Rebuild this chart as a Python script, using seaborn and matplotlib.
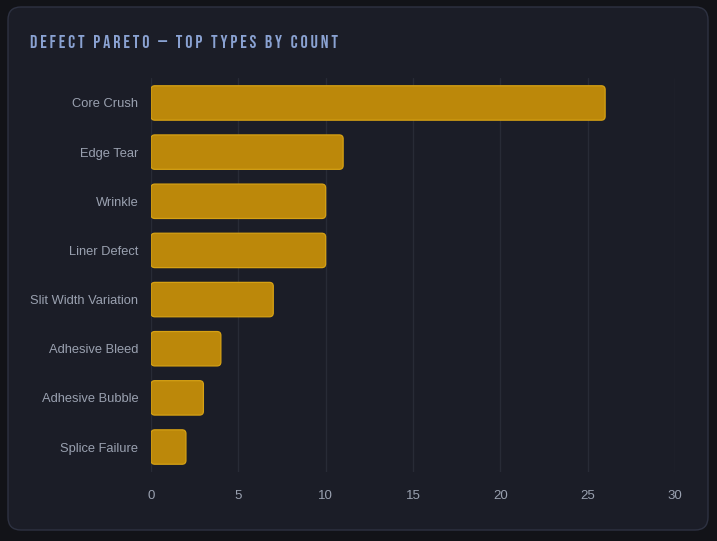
import matplotlib
matplotlib.use('Agg')
import matplotlib.pyplot as plt
import seaborn as sns
import pandas as pd
from matplotlib.patches import FancyBboxPatch
import warnings

warnings.filterwarnings('ignore')

defects = ['Core Crush', 'Edge Tear', 'Wrinkle', 'Liner Defect',
           'Slit Width Variation', 'Adhesive Bleed', 'Adhesive Bubble', 'Splice Failure']
counts = [26, 11, 10, 10, 7, 4, 3, 2]
x_ticks = [0, 5, 10, 15, 20, 25, 30]
title = 'DEFECT PARETO — TOP TYPES BY COUNT'

df = pd.DataFrame({'defect': defects, 'count': counts})

sns.set_theme(style='dark')
plt.rcParams['font.family'] = ['Liberation Sans', 'DejaVu Sans']

fig = plt.figure(figsize=(7.17, 5.41), dpi=100)
fig.patch.set_facecolor('#121318')

# card behind the chart
card = FancyBboxPatch((8 / 717, 11 / 541), 700 / 717, 523 / 541,
                      boxstyle='round,pad=0,rounding_size=0.018',
                      mutation_aspect=717 / 541,
                      transform=fig.transFigure, facecolor='#1b1d27',
                      edgecolor='#2e3242', linewidth=1.0, zorder=-5)
fig.patches.append(card)

ax = fig.add_axes([151 / 717, 1 - 471.6 / 541, 524 / 717, 393.2 / 541])
ax.set_facecolor('none')
ax.set_zorder(2)

sns.barplot(data=df, x='count', y='defect', ax=ax, color='#b8860b',
            width=0.7, orient='h')

# swap the square bars for rounded ones
for p in list(ax.patches):
    x, y = p.get_x(), p.get_y()
    w, h = p.get_width(), p.get_height()
    rb = FancyBboxPatch((x, y), w, h,
                        boxstyle='round,pad=0,rounding_size=0.22',
                        mutation_aspect=0.354,
                        facecolor='#bc880a', edgecolor='#d6a114',
                        linewidth=0.9, zorder=3)
    p.remove()
    ax.add_patch(rb)

ax.set_xlim(0, 30)
ax.set_ylim(7.5, -0.5)
ax.set_xticks(x_ticks)
ax.set_xlabel('')
ax.set_ylabel('')
ax.grid(axis='x', color='#282b36', linewidth=1.0)
ax.grid(axis='y', visible=False)
ax.set_axisbelow(True)
for s in ax.spines.values():
    s.set_visible(False)
ax.tick_params(axis='both', length=0, colors='#9aa1b0', labelsize=9.3)
ax.tick_params(axis='y', pad=9)
ax.tick_params(axis='x', pad=13, labelsize=9.5)

# spaced-out caps title
spaced = '   '.join(' '.join(w) for w in title.split(' '))
fig.text(30 / 717, 1 - 42 / 541, spaced,
         color='#8aa2d2', fontsize=13,
         family=['Bebas Neue', 'Oswald', 'DejaVu Sans'], va='center', ha='left')

fig.savefig('out.png', dpi=100, facecolor=fig.get_facecolor())
